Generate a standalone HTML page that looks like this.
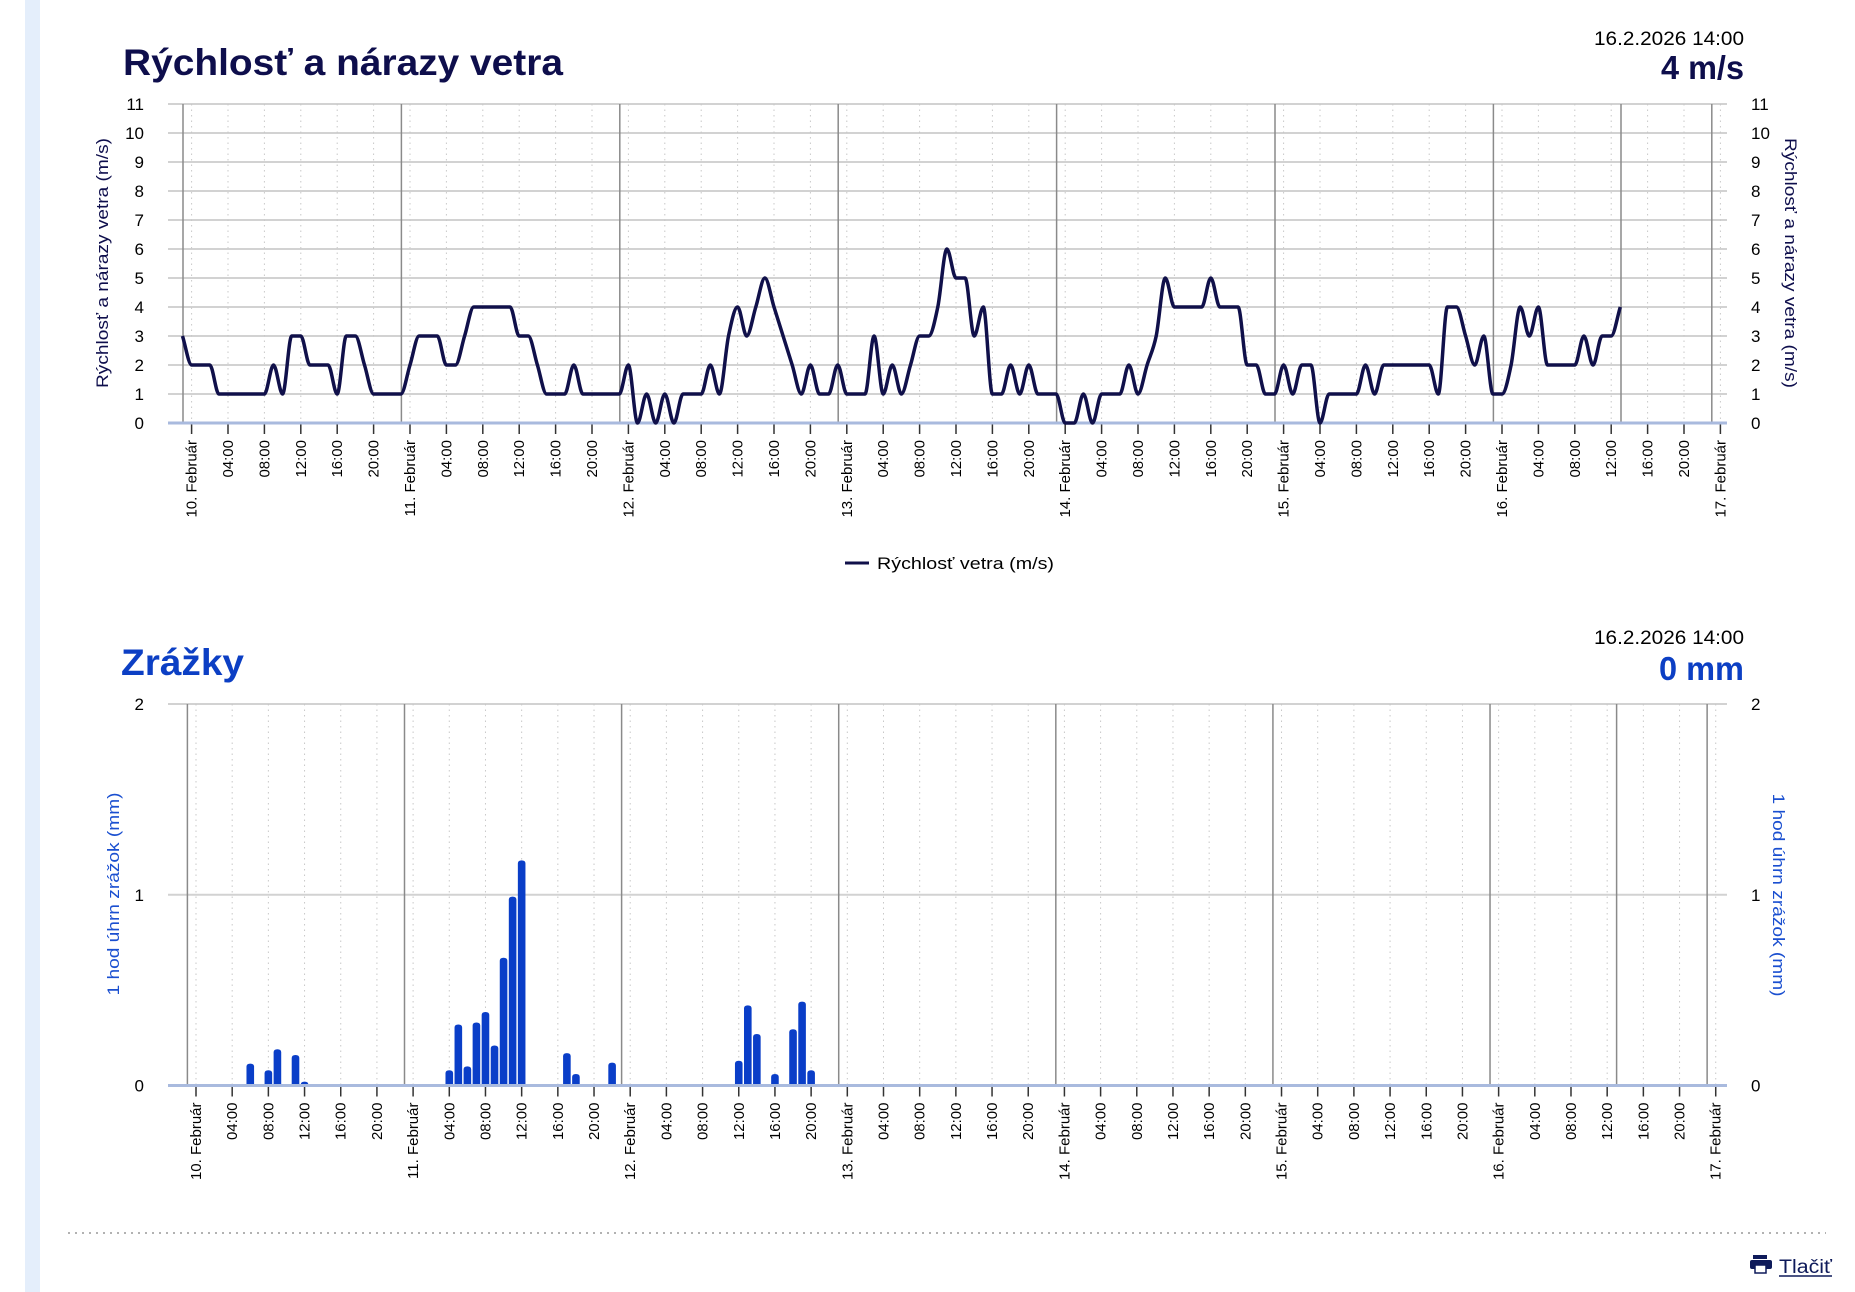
<!DOCTYPE html>
<html><head><meta charset="utf-8">
<style>
html,body{margin:0;padding:0;background:#fff;}
body{width:1855px;height:1292px;overflow:hidden;position:relative;font-family:"Liberation Sans",Arial,sans-serif;}
#side{position:absolute;left:25px;top:0;width:15px;height:1292px;background:#e4eefb;}
svg{position:absolute;left:0;top:0;}
</style></head>
<body>
<div id="side"></div>
<svg id="s" width="1855" height="1292" xmlns="http://www.w3.org/2000/svg" font-family="Liberation Sans, Arial, sans-serif">
<text x="123" y="75" font-size="37" font-weight="bold" fill="#0e0e4c" textLength="440" lengthAdjust="spacingAndGlyphs">Rýchlosť a nárazy vetra</text>
<text x="1744" y="45" font-size="19" text-anchor="end" fill="#000" textLength="150" lengthAdjust="spacingAndGlyphs">16.2.2026 14:00</text>
<text x="1744" y="79" font-size="33" font-weight="bold" text-anchor="end" fill="#0e0e4c" textLength="83" lengthAdjust="spacingAndGlyphs">4 m/s</text>
<text x="121" y="675" font-size="37" font-weight="bold" fill="#0c3fc4" textLength="123" lengthAdjust="spacingAndGlyphs">Zrážky</text>
<text x="1744" y="644" font-size="19" text-anchor="end" fill="#000" textLength="150" lengthAdjust="spacingAndGlyphs">16.2.2026 14:00</text>
<text x="1744" y="680" font-size="33" font-weight="bold" text-anchor="end" fill="#0c3fc4" textLength="85" lengthAdjust="spacingAndGlyphs">0 mm</text>
<text transform="translate(108,263) rotate(-90)" font-size="17" text-anchor="middle" fill="#0e0e4c" textLength="250" lengthAdjust="spacingAndGlyphs">Rýchlosť a nárazy vetra (m/s)</text>
<text transform="translate(1785,263) rotate(90)" font-size="17" text-anchor="middle" fill="#0e0e4c" textLength="250" lengthAdjust="spacingAndGlyphs">Rýchlosť a nárazy vetra (m/s)</text>
<text transform="translate(119,894) rotate(-90)" font-size="17" text-anchor="middle" fill="#1a4fd0" textLength="203" lengthAdjust="spacingAndGlyphs">1 hod úhrn zrážok (mm)</text>
<text transform="translate(1773,895) rotate(90)" font-size="17" text-anchor="middle" fill="#1a4fd0" textLength="203" lengthAdjust="spacingAndGlyphs">1 hod úhrn zrážok (mm)</text>
<line x1="845" y1="563" x2="869" y2="563" stroke="#10104a" stroke-width="3"/>
<text x="877" y="569" font-size="17" fill="#000" textLength="177" lengthAdjust="spacingAndGlyphs">Rýchlosť vetra (m/s)</text>
<line x1="68" y1="1233" x2="1826" y2="1233" stroke="#999" stroke-width="1.5" stroke-dasharray="2,5"/>
<rect x="1753" y="1255" width="14" height="4" fill="#0e1a5a"/>
<rect x="1750" y="1260" width="22" height="9" rx="2" fill="#0e1a5a"/>
<rect x="1755" y="1265" width="11" height="8" fill="#fff" stroke="#0e1a5a" stroke-width="1.5"/>
<text x="1779" y="1273" font-size="19" fill="#0e1a5a" textLength="53" lengthAdjust="spacingAndGlyphs">Tlačiť</text>
<line x1="1779" y1="1276" x2="1832" y2="1276" stroke="#0e1a5a" stroke-width="1.5"/>
<g id="g"></g>
</svg>
<script>
var NS="http://www.w3.org/2000/svg",G=document.getElementById('g');
function el(t,a,txt){var e=document.createElementNS(NS,t);for(var k in a)e.setAttribute(k,a[k]);if(txt!=null)e.textContent=txt;G.appendChild(e);return e;}
function chart(o){
 for(var i=0;i<=o.n;i++){var y=o.y0-i*o.dy;
  if(i>0)el('line',{x1:168,x2:1727,y1:y,y2:y,stroke:'#d2d2d2','stroke-width':2});
  el('text',{x:144,y:y+6,'font-size':17,'text-anchor':'end',fill:'#000'},String(i));
  el('text',{x:1751,y:y+6,'font-size':17,fill:'#000'},String(i));}
 var labs=['04:00','08:00','12:00','16:00','20:00'];
 for(var d=0;d<=7;d++){for(var k=0;k<6;k++){if(d==7&&k>0)break;
   var x=o.t0+(d*24+k*4)*o.h;
   el('line',{x1:x,x2:x,y1:o.top,y2:o.y0,stroke:'#c8c8c8','stroke-width':1,'stroke-dasharray':'1.5,4'});
   el('line',{x1:x,x2:x,y1:o.y0,y2:o.y0+11,stroke:'#333','stroke-width':1.5});
   var t=k==0?(10+d)+'. Február':labs[k-1];
   el('text',{transform:'translate('+(x+5)+','+(o.y0+17)+') rotate(-90)','font-size':15,'text-anchor':'end',fill:'#000'},t);}
  var xd=o.t0+d*24*o.h-8.6;
  el('line',{x1:xd,x2:xd,y1:o.top,y2:o.y0,stroke:'#8a8a8a','stroke-width':1.5});}
 el('line',{x1:o.now,x2:o.now,y1:o.top,y2:o.y0,stroke:'#8a8a8a','stroke-width':1.5});
}
chart({n:11,y0:423,dy:29,top:104,t0:191.6,h:9.1,now:1621});
chart({n:2,y0:1085.5,dy:190.75,top:704,t0:196,h:9.046,now:1616.6});
var bars=[[6,.115],[8,.08],[9,.19],[11,.16],[12,.02],
[28,.08],[29,.32],[30,.1],[31,.33],[32,.385],[33,.21],[34,.67],[35,.99],[36,1.18],
[41,.17],[42,.06],[46,.12],
[60,.13],[61,.42],[62,.27],[64,.06],[66,.295],[67,.44],[68,.08]];
bars.forEach(function(b){var x=196+b[0]*9.046,hh=b[1]*190.75,y=1085.5-hh;
 el('path',{d:'M'+(x-3.8)+' 1085.5 V'+(y+3)+' Q'+(x-3.8)+' '+y+' '+x+' '+y+' Q'+(x+3.8)+' '+y+' '+(x+3.8)+' '+(y+3)+' V1085.5 Z',fill:'#0a3ec8'});});
el('line',{x1:168,x2:1727,y1:423,y2:423,stroke:'#a9bade','stroke-width':3});
el('line',{x1:168,x2:1727,y1:1085.5,y2:1085.5,stroke:'#a9bade','stroke-width':3});
var v=[3,2,2,2,1,1,1,1,1,1,2,1,3,3,2,2,2,1,3,3,2,1,1,1,1,2,3,3,3,2,2,3,4,4,4,4,4,3,3,2,1,
1,1,2,1,1,1,1,1,2,0,1,0,1,0,1,1,1,2,1,3,4,3,4,5,4,3,2,1,2,1,1,2,1,1,1,3,1,2,1,2,3,3,4,6,5,5,3,4,1,1,2,1,2,1,1,1,0,0,1,0,1,1,1,2,1,2,3,5,4,4,4,4,5,4,4,4,2,2,1,1,2,1,2,2,0,1,1,1,1,2,1,2,2,2,2,2,2,1,4,4,3,2,3,1,1,2,4,3,4,2,2,2,2,3,2,3,3,4];
var P=v.map(function(val,i){return [191.6+(i-1)*9.1,423-val*29];});
var n=P.length,dl=[],m=[];
for(var i=0;i<n-1;i++)dl.push((P[i+1][1]-P[i][1])/(P[i+1][0]-P[i][0]));
for(i=0;i<n;i++){if(i==0)m.push(dl[0]);else if(i==n-1)m.push(dl[n-2]);else if(dl[i-1]*dl[i]<=0)m.push(0);else m.push((dl[i-1]+dl[i])/2);}
for(i=0;i<n-1;i++){if(dl[i]==0){m[i]=0;m[i+1]=0;continue;}var a=m[i]/dl[i],b=m[i+1]/dl[i],s=a*a+b*b;if(s>9){var t=3/Math.sqrt(s);m[i]=t*a*dl[i];m[i+1]=t*b*dl[i];}}
var d='M'+P[0][0]+' '+P[0][1];
for(i=0;i<n-1;i++){var hx=(P[i+1][0]-P[i][0])/3;d+=' C'+(P[i][0]+hx)+' '+(P[i][1]+m[i]*hx)+' '+(P[i+1][0]-hx)+' '+(P[i+1][1]-m[i+1]*hx)+' '+P[i+1][0]+' '+P[i+1][1];}
el('path',{d:d,fill:'none',stroke:'#10104a','stroke-width':3.5,'stroke-linejoin':'round'});
</script>
</body></html>
